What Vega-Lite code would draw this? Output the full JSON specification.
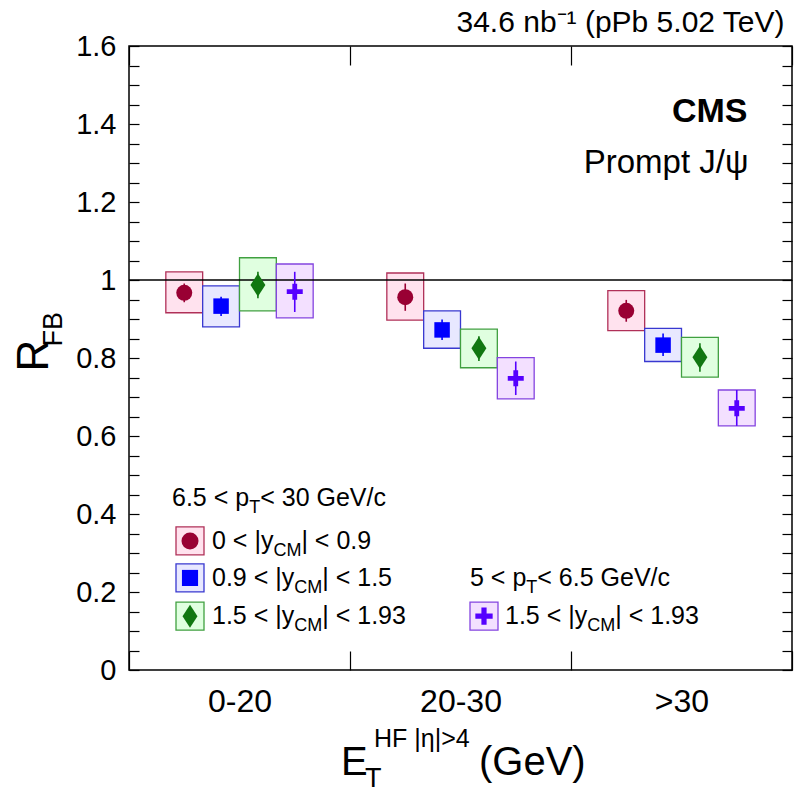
{
  "$schema": "https://vega.github.io/schema/vega-lite/v6.json",
  "width": 663,
  "height": 624,
  "autosize": {"type": "none"},
  "padding": {"left": 129, "top": 46, "right": 4, "bottom": 126},
  "background": "white",
  "config": {"view": {"stroke": "black", "strokeWidth": 1.5}, "font": "Liberation Sans", "text": {"fontWeight": "normal", "font": "Liberation Sans"}},
  "datasets": {
    "pts": [
      {"bin": "0-20", "series": "s1", "v": 0.967, "elo": 0.943, "ehi": 0.991, "slo": 0.916, "shi": 1.021},
      {"bin": "0-20", "series": "s2", "v": 0.933, "elo": 0.908, "ehi": 0.957, "slo": 0.880, "shi": 0.985},
      {"bin": "0-20", "series": "s3", "v": 0.987, "elo": 0.953, "ehi": 1.021, "slo": 0.921, "shi": 1.057},
      {"bin": "0-20", "series": "s4", "v": 0.970, "elo": 0.918, "ehi": 1.021, "slo": 0.903, "shi": 1.041},
      {"bin": "20-30", "series": "s1", "v": 0.956, "elo": 0.921, "ehi": 0.991, "slo": 0.897, "shi": 1.018},
      {"bin": "20-30", "series": "s2", "v": 0.872, "elo": 0.846, "ehi": 0.899, "slo": 0.825, "shi": 0.921},
      {"bin": "20-30", "series": "s3", "v": 0.825, "elo": 0.792, "ehi": 0.856, "slo": 0.775, "shi": 0.874},
      {"bin": "20-30", "series": "s4", "v": 0.748, "elo": 0.705, "ehi": 0.791, "slo": 0.695, "shi": 0.801},
      {"bin": ">30", "series": "s1", "v": 0.921, "elo": 0.893, "ehi": 0.949, "slo": 0.870, "shi": 0.973},
      {"bin": ">30", "series": "s2", "v": 0.833, "elo": 0.805, "ehi": 0.863, "slo": 0.791, "shi": 0.876},
      {"bin": ">30", "series": "s3", "v": 0.802, "elo": 0.765, "ehi": 0.838, "slo": 0.751, "shi": 0.853},
      {"bin": ">30", "series": "s4", "v": 0.671, "elo": 0.626, "ehi": 0.718, "slo": 0.626, "shi": 0.718}
    ],
    "one": [{"k": 1}]
  },
  "resolve": {"axis": {"x": "independent", "y": "independent"}},
  "layer": [
    {
      "data": {"name": "pts"},
      "mark": {"type": "rect", "strokeWidth": 1.3},
      "encoding": {
        "x": {"field": "bin", "type": "nominal", "sort": ["0-20", "20-30", ">30"],
          "scale": {"type": "band", "domain": ["0-20", "20-30", ">30"], "paddingInner": 0, "paddingOuter": 0},
          "axis": {"orient": "bottom", "tickBand": "extent", "tickSize": -19, "tickWidth": 1.2, "tickColor": "black", "labelPadding": 35, "labelFontSize": 32, "labelFont": "Liberation Sans", "labelFontWeight": "normal", "labelColor": "black", "labelAngle": 0, "domain": false, "grid": false, "title": null}},
        "xOffset": {"field": "series", "type": "nominal", "scale": {"domain": ["s1", "s2", "s3", "s4"], "paddingInner": 0, "paddingOuter": 3.02}},
        "y": {"field": "slo", "type": "quantitative",
          "scale": {"domain": [0, 1.6], "nice": false, "zero": false},
          "axis": {"orient": "left", "values": [0,0.05,0.1,0.15,0.2,0.25,0.3,0.35,0.4,0.45,0.5,0.55,0.6,0.65,0.7,0.75,0.8,0.85,0.9,0.95,1,1.05,1.1,1.15,1.2,1.25,1.3,1.35,1.4,1.45,1.5,1.55,1.6],
            "labelExpr": "abs(datum.value*5 - round(datum.value*5)) < 0.01 ? format(datum.value, '~g') : ''",
            "labelOverlap": false, "labelFlush": false, "tickSize": -10, "tickWidth": 1.2, "tickColor": "black", "labelPadding": 23, "labelFontSize": 29, "labelFont": "Liberation Sans", "labelFontWeight": "normal", "labelColor": "black", "domain": false, "grid": false,
            "title": "R", "titleFontSize": 44, "titleFont": "Liberation Sans", "titleFontWeight": "normal", "titleColor": "black", "titleX": -82, "titleY": 309, "titleBaseline": "alphabetic", "titleAlign": "center", "titleAngle": 270}},
        "y2": {"field": "shi"},
        "fill": {"field": "series", "type": "nominal", "scale": {"domain": ["s1", "s2", "s3", "s4"], "range": ["#ffe2ee", "#e8e8ff", "#e0ffe0", "#f3e0ff"]}, "legend": null},
        "stroke": {"field": "series", "type": "nominal", "scale": {"domain": ["s1", "s2", "s3", "s4"], "range": ["#b03058", "#3838d0", "#40a040", "#8444e0"]}, "legend": null}
      }
    },
    {
      "data": {"name": "one"},
      "mark": {"type": "rule", "color": "black", "strokeWidth": 1.3},
      "encoding": {"y": {"datum": 1, "type": "quantitative", "scale": {"domain": [0, 1.6], "nice": false, "zero": false}, "axis": null}}
    },
    {
      "data": {"name": "pts"},
      "mark": {"type": "rule", "strokeWidth": 1.6},
      "encoding": {
        "x": {"field": "bin", "type": "nominal", "scale": {"type": "band", "domain": ["0-20", "20-30", ">30"], "paddingInner": 0, "paddingOuter": 0}, "axis": null},
        "xOffset": {"field": "series", "type": "nominal", "scale": {"domain": ["s1", "s2", "s3", "s4"], "paddingInner": 0, "paddingOuter": 3.02}},
        "y": {"field": "elo", "type": "quantitative", "scale": {"domain": [0, 1.6], "nice": false, "zero": false}, "axis": null},
        "y2": {"field": "ehi"},
        "color": {"field": "series", "type": "nominal", "scale": {"domain": ["s1", "s2", "s3", "s4"], "range": ["#990033", "#0000ff", "#117711", "#5500ff"]}, "legend": null}
      }
    },
    {
      "data": {"name": "pts"},
      "mark": {"type": "point", "filled": true, "opacity": 1},
      "encoding": {
        "x": {"field": "bin", "type": "nominal", "scale": {"type": "band", "domain": ["0-20", "20-30", ">30"], "paddingInner": 0, "paddingOuter": 0}, "axis": null},
        "xOffset": {"field": "series", "type": "nominal", "scale": {"domain": ["s1", "s2", "s3", "s4"], "paddingInner": 0, "paddingOuter": 3.02}},
        "y": {"field": "v", "type": "quantitative", "scale": {"domain": [0, 1.6], "nice": false, "zero": false}, "axis": null},
        "color": {"field": "series", "type": "nominal", "scale": {"domain": ["s1", "s2", "s3", "s4"], "range": ["#990033", "#0000ff", "#117711", "#5500ff"]}, "legend": null},
        "shape": {"field": "series", "type": "nominal", "scale": {"domain": ["s1", "s2", "s3", "s4"], "range": ["circle", "square", "M0,-1L0.65,0L0,1L-0.65,0Z", "M-0.3,-1L0.3,-1L0.3,-0.3L1,-0.3L1,0.3L0.3,0.3L0.3,1L-0.3,1L-0.3,0.3L-1,0.3L-1,-0.3L-0.3,-0.3Z"]}, "legend": null},
        "size": {"field": "series", "type": "nominal", "scale": {"type": "ordinal", "domain": ["s1", "s2", "s3", "s4"], "range": [256, 240, 529, 256]}, "legend": null}
      }
    },
    {
      "data": {"name": "pts"},
      "mark": {"type": "point", "opacity": 0},
      "encoding": {
        "x": {"field": "bin", "type": "nominal", "scale": {"type": "band", "domain": ["0-20", "20-30", ">30"], "paddingInner": 0, "paddingOuter": 0},
          "axis": {"orient": "top", "tickBand": "extent", "tickSize": -19, "tickWidth": 1.2, "tickColor": "black", "labels": false, "domain": false, "grid": false, "title": null}},
        "y": {"field": "v", "type": "quantitative", "scale": {"domain": [0, 1.6], "nice": false, "zero": false},
          "axis": {"orient": "right", "values": [0,0.05,0.1,0.15,0.2,0.25,0.3,0.35,0.4,0.45,0.5,0.55,0.6,0.65,0.7,0.75,0.8,0.85,0.9,0.95,1,1.05,1.1,1.15,1.2,1.25,1.3,1.35,1.4,1.45,1.5,1.55,1.6], "tickSize": -10, "tickWidth": 1.2, "tickColor": "black", "labels": false, "domain": false, "grid": false, "title": null}}
      }
    },
    {"data": {"name": "one"}, "mark": {"type": "text", "text": "34.6 nb⁻¹ (pPb 5.02 TeV)", "align": "right", "baseline": "alphabetic", "dx": 103, "dy": -14, "fontSize": 30, "fontWeight": "normal", "color": "black"},
     "encoding": {"x": {"datum": ">30", "type": "nominal", "scale": {"type": "band", "domain": ["0-20", "20-30", ">30"], "paddingInner": 0, "paddingOuter": 0}, "axis": null}, "y": {"datum": 1.6, "type": "quantitative", "scale": {"domain": [0, 1.6], "nice": false, "zero": false}, "axis": null}}},
    {"data": {"name": "one"}, "mark": {"type": "text", "text": "FB", "angle": 270, "align": "center", "baseline": "alphabetic", "dy": -177.5, "fontSize": 27, "fontWeight": "normal", "color": "black"},
     "encoding": {"x": {"datum": "0-20", "type": "nominal", "scale": {"type": "band", "domain": ["0-20", "20-30", ">30"], "paddingInner": 0, "paddingOuter": 0}, "axis": null}, "y": {"datum": 0.874, "type": "quantitative", "scale": {"domain": [0, 1.6], "nice": false, "zero": false}, "axis": null}}},
    {"data": {"name": "one"}, "mark": {"type": "text", "text": "E", "align": "left", "baseline": "alphabetic", "dx": -119.5, "fontSize": 40, "fontWeight": "normal", "color": "black"},
     "encoding": {"x": {"datum": "20-30", "type": "nominal", "scale": {"type": "band", "domain": ["0-20", "20-30", ">30"], "paddingInner": 0, "paddingOuter": 0}, "axis": null}, "y": {"datum": -0.269, "type": "quantitative", "scale": {"domain": [0, 1.6], "nice": false, "zero": false}, "axis": null}}},
    {"data": {"name": "one"}, "mark": {"type": "text", "text": "T", "align": "left", "baseline": "alphabetic", "dx": -95.5, "fontSize": 27, "fontWeight": "normal", "color": "black"},
     "encoding": {"x": {"datum": "20-30", "type": "nominal", "scale": {"type": "band", "domain": ["0-20", "20-30", ">30"], "paddingInner": 0, "paddingOuter": 0}, "axis": null}, "y": {"datum": -0.3, "type": "quantitative", "scale": {"domain": [0, 1.6], "nice": false, "zero": false}, "axis": null}}},
    {"data": {"name": "one"}, "mark": {"type": "text", "text": "HF |η|>4", "align": "left", "baseline": "alphabetic", "dx": -86.5, "fontSize": 25, "fontWeight": "normal", "color": "black"},
     "encoding": {"x": {"datum": "20-30", "type": "nominal", "scale": {"type": "band", "domain": ["0-20", "20-30", ">30"], "paddingInner": 0, "paddingOuter": 0}, "axis": null}, "y": {"datum": -0.197, "type": "quantitative", "scale": {"domain": [0, 1.6], "nice": false, "zero": false}, "axis": null}}},
    {"data": {"name": "one"}, "mark": {"type": "text", "text": "(GeV)", "align": "left", "baseline": "alphabetic", "dx": 18.5, "fontSize": 40, "fontWeight": "normal", "color": "black"},
     "encoding": {"x": {"datum": "20-30", "type": "nominal", "scale": {"type": "band", "domain": ["0-20", "20-30", ">30"], "paddingInner": 0, "paddingOuter": 0}, "axis": null}, "y": {"datum": -0.269, "type": "quantitative", "scale": {"domain": [0, 1.6], "nice": false, "zero": false}, "axis": null}}},
    {"data": {"name": "one"}, "mark": {"type": "text", "text": "CMS", "align": "right", "baseline": "middle", "dx": 66, "fontSize": 34, "fontWeight": "bold", "color": "black"},
     "encoding": {"x": {"datum": ">30", "type": "nominal", "scale": {"type": "band", "domain": ["0-20", "20-30", ">30"], "paddingInner": 0, "paddingOuter": 0}, "axis": null}, "y": {"datum": 1.431, "type": "quantitative", "scale": {"domain": [0, 1.6], "nice": false, "zero": false}, "axis": null}}},
    {"data": {"name": "one"}, "mark": {"type": "text", "text": "Prompt J/ψ", "align": "right", "baseline": "middle", "dx": 67, "fontSize": 33, "fontWeight": "normal", "color": "black"},
     "encoding": {"x": {"datum": ">30", "type": "nominal", "scale": {"type": "band", "domain": ["0-20", "20-30", ">30"], "paddingInner": 0, "paddingOuter": 0}, "axis": null}, "y": {"datum": 1.3, "type": "quantitative", "scale": {"domain": [0, 1.6], "nice": false, "zero": false}, "axis": null}}},

    {"data": {"name": "one"}, "mark": {"type": "text", "text": "6.5 < p", "align": "left", "baseline": "middle", "dx": -67.5, "fontSize": 25, "fontWeight": "normal", "color": "black"},
     "encoding": {"x": {"datum": "0-20", "type": "nominal", "scale": {"type": "band", "domain": ["0-20", "20-30", ">30"], "paddingInner": 0, "paddingOuter": 0}, "axis": null}, "y": {"datum": 0.441, "type": "quantitative", "scale": {"domain": [0, 1.6], "nice": false, "zero": false}, "axis": null}}},
    {"data": {"name": "one"}, "mark": {"type": "text", "text": "T", "align": "left", "baseline": "middle", "dx": 9.7, "dy": 10, "fontSize": 18, "fontWeight": "normal", "color": "black"},
     "encoding": {"x": {"datum": "0-20", "type": "nominal", "scale": {"type": "band", "domain": ["0-20", "20-30", ">30"], "paddingInner": 0, "paddingOuter": 0}, "axis": null}, "y": {"datum": 0.441, "type": "quantitative", "scale": {"domain": [0, 1.6], "nice": false, "zero": false}, "axis": null}}},
    {"data": {"name": "one"}, "mark": {"type": "text", "text": " < 30 GeV/c", "align": "left", "baseline": "middle", "dx": 20.7, "fontSize": 25, "fontWeight": "normal", "color": "black"},
     "encoding": {"x": {"datum": "0-20", "type": "nominal", "scale": {"type": "band", "domain": ["0-20", "20-30", ">30"], "paddingInner": 0, "paddingOuter": 0}, "axis": null}, "y": {"datum": 0.441, "type": "quantitative", "scale": {"domain": [0, 1.6], "nice": false, "zero": false}, "axis": null}}},

    {"data": {"name": "one"}, "mark": {"type": "point", "shape": "square", "size": 784, "filled": true, "fill": "#ffe2ee", "stroke": "#b03058", "strokeWidth": 1.3, "opacity": 1, "xOffset": -49.5},
     "encoding": {"x": {"datum": "0-20", "type": "nominal", "scale": {"type": "band", "domain": ["0-20", "20-30", ">30"], "paddingInner": 0, "paddingOuter": 0}, "axis": null}, "y": {"datum": 0.331, "type": "quantitative", "scale": {"domain": [0, 1.6], "nice": false, "zero": false}, "axis": null}}},
    {"data": {"name": "one"}, "mark": {"type": "point", "shape": "circle", "size": 290, "filled": true, "color": "#990033", "opacity": 1, "xOffset": -49.5},
     "encoding": {"x": {"datum": "0-20", "type": "nominal", "scale": {"type": "band", "domain": ["0-20", "20-30", ">30"], "paddingInner": 0, "paddingOuter": 0}, "axis": null}, "y": {"datum": 0.331, "type": "quantitative", "scale": {"domain": [0, 1.6], "nice": false, "zero": false}, "axis": null}}},
    {"data": {"name": "one"}, "mark": {"type": "text", "text": "0 < |y", "align": "left", "baseline": "middle", "dx": -27.5, "fontSize": 25, "fontWeight": "normal", "color": "black"},
     "encoding": {"x": {"datum": "0-20", "type": "nominal", "scale": {"type": "band", "domain": ["0-20", "20-30", ">30"], "paddingInner": 0, "paddingOuter": 0}, "axis": null}, "y": {"datum": 0.331, "type": "quantitative", "scale": {"domain": [0, 1.6], "nice": false, "zero": false}, "axis": null}}},
    {"data": {"name": "one"}, "mark": {"type": "text", "text": "CM", "align": "left", "baseline": "middle", "dx": 33.9, "dy": 10, "fontSize": 18, "fontWeight": "normal", "color": "black"},
     "encoding": {"x": {"datum": "0-20", "type": "nominal", "scale": {"type": "band", "domain": ["0-20", "20-30", ">30"], "paddingInner": 0, "paddingOuter": 0}, "axis": null}, "y": {"datum": 0.331, "type": "quantitative", "scale": {"domain": [0, 1.6], "nice": false, "zero": false}, "axis": null}}},
    {"data": {"name": "one"}, "mark": {"type": "text", "text": "| < 0.9", "align": "left", "baseline": "middle", "dx": 61.9, "fontSize": 25, "fontWeight": "normal", "color": "black"},
     "encoding": {"x": {"datum": "0-20", "type": "nominal", "scale": {"type": "band", "domain": ["0-20", "20-30", ">30"], "paddingInner": 0, "paddingOuter": 0}, "axis": null}, "y": {"datum": 0.331, "type": "quantitative", "scale": {"domain": [0, 1.6], "nice": false, "zero": false}, "axis": null}}},

    {"data": {"name": "one"}, "mark": {"type": "point", "shape": "square", "size": 784, "filled": true, "fill": "#e8e8ff", "stroke": "#3838d0", "strokeWidth": 1.3, "opacity": 1, "xOffset": -49.5},
     "encoding": {"x": {"datum": "0-20", "type": "nominal", "scale": {"type": "band", "domain": ["0-20", "20-30", ">30"], "paddingInner": 0, "paddingOuter": 0}, "axis": null}, "y": {"datum": 0.236, "type": "quantitative", "scale": {"domain": [0, 1.6], "nice": false, "zero": false}, "axis": null}}},
    {"data": {"name": "one"}, "mark": {"type": "point", "shape": "square", "size": 260, "filled": true, "color": "#0000ff", "opacity": 1, "xOffset": -49.5},
     "encoding": {"x": {"datum": "0-20", "type": "nominal", "scale": {"type": "band", "domain": ["0-20", "20-30", ">30"], "paddingInner": 0, "paddingOuter": 0}, "axis": null}, "y": {"datum": 0.236, "type": "quantitative", "scale": {"domain": [0, 1.6], "nice": false, "zero": false}, "axis": null}}},
    {"data": {"name": "one"}, "mark": {"type": "text", "text": "0.9 < |y", "align": "left", "baseline": "middle", "dx": -27.5, "fontSize": 25, "fontWeight": "normal", "color": "black"},
     "encoding": {"x": {"datum": "0-20", "type": "nominal", "scale": {"type": "band", "domain": ["0-20", "20-30", ">30"], "paddingInner": 0, "paddingOuter": 0}, "axis": null}, "y": {"datum": 0.236, "type": "quantitative", "scale": {"domain": [0, 1.6], "nice": false, "zero": false}, "axis": null}}},
    {"data": {"name": "one"}, "mark": {"type": "text", "text": "CM", "align": "left", "baseline": "middle", "dx": 54.75, "dy": 10, "fontSize": 18, "fontWeight": "normal", "color": "black"},
     "encoding": {"x": {"datum": "0-20", "type": "nominal", "scale": {"type": "band", "domain": ["0-20", "20-30", ">30"], "paddingInner": 0, "paddingOuter": 0}, "axis": null}, "y": {"datum": 0.236, "type": "quantitative", "scale": {"domain": [0, 1.6], "nice": false, "zero": false}, "axis": null}}},
    {"data": {"name": "one"}, "mark": {"type": "text", "text": "| < 1.5", "align": "left", "baseline": "middle", "dx": 82.75, "fontSize": 25, "fontWeight": "normal", "color": "black"},
     "encoding": {"x": {"datum": "0-20", "type": "nominal", "scale": {"type": "band", "domain": ["0-20", "20-30", ">30"], "paddingInner": 0, "paddingOuter": 0}, "axis": null}, "y": {"datum": 0.236, "type": "quantitative", "scale": {"domain": [0, 1.6], "nice": false, "zero": false}, "axis": null}}},

    {"data": {"name": "one"}, "mark": {"type": "point", "shape": "square", "size": 784, "filled": true, "fill": "#e0ffe0", "stroke": "#40a040", "strokeWidth": 1.3, "opacity": 1, "xOffset": -49.5},
     "encoding": {"x": {"datum": "0-20", "type": "nominal", "scale": {"type": "band", "domain": ["0-20", "20-30", ">30"], "paddingInner": 0, "paddingOuter": 0}, "axis": null}, "y": {"datum": 0.138, "type": "quantitative", "scale": {"domain": [0, 1.6], "nice": false, "zero": false}, "axis": null}}},
    {"data": {"name": "one"}, "mark": {"type": "point", "shape": "M0,-1L0.65,0L0,1L-0.65,0Z", "size": 529, "filled": true, "color": "#117711", "opacity": 1, "xOffset": -49.5},
     "encoding": {"x": {"datum": "0-20", "type": "nominal", "scale": {"type": "band", "domain": ["0-20", "20-30", ">30"], "paddingInner": 0, "paddingOuter": 0}, "axis": null}, "y": {"datum": 0.138, "type": "quantitative", "scale": {"domain": [0, 1.6], "nice": false, "zero": false}, "axis": null}}},
    {"data": {"name": "one"}, "mark": {"type": "text", "text": "1.5 < |y", "align": "left", "baseline": "middle", "dx": -27.5, "fontSize": 25, "fontWeight": "normal", "color": "black"},
     "encoding": {"x": {"datum": "0-20", "type": "nominal", "scale": {"type": "band", "domain": ["0-20", "20-30", ">30"], "paddingInner": 0, "paddingOuter": 0}, "axis": null}, "y": {"datum": 0.138, "type": "quantitative", "scale": {"domain": [0, 1.6], "nice": false, "zero": false}, "axis": null}}},
    {"data": {"name": "one"}, "mark": {"type": "text", "text": "CM", "align": "left", "baseline": "middle", "dx": 54.75, "dy": 10, "fontSize": 18, "fontWeight": "normal", "color": "black"},
     "encoding": {"x": {"datum": "0-20", "type": "nominal", "scale": {"type": "band", "domain": ["0-20", "20-30", ">30"], "paddingInner": 0, "paddingOuter": 0}, "axis": null}, "y": {"datum": 0.138, "type": "quantitative", "scale": {"domain": [0, 1.6], "nice": false, "zero": false}, "axis": null}}},
    {"data": {"name": "one"}, "mark": {"type": "text", "text": "| < 1.93", "align": "left", "baseline": "middle", "dx": 82.75, "fontSize": 25, "fontWeight": "normal", "color": "black"},
     "encoding": {"x": {"datum": "0-20", "type": "nominal", "scale": {"type": "band", "domain": ["0-20", "20-30", ">30"], "paddingInner": 0, "paddingOuter": 0}, "axis": null}, "y": {"datum": 0.138, "type": "quantitative", "scale": {"domain": [0, 1.6], "nice": false, "zero": false}, "axis": null}}},

    {"data": {"name": "one"}, "mark": {"type": "text", "text": "5 < p", "align": "left", "baseline": "middle", "dx": 9.5, "fontSize": 25, "fontWeight": "normal", "color": "black"},
     "encoding": {"x": {"datum": "20-30", "type": "nominal", "scale": {"type": "band", "domain": ["0-20", "20-30", ">30"], "paddingInner": 0, "paddingOuter": 0}, "axis": null}, "y": {"datum": 0.236, "type": "quantitative", "scale": {"domain": [0, 1.6], "nice": false, "zero": false}, "axis": null}}},
    {"data": {"name": "one"}, "mark": {"type": "text", "text": "T", "align": "left", "baseline": "middle", "dx": 65.8, "dy": 10, "fontSize": 18, "fontWeight": "normal", "color": "black"},
     "encoding": {"x": {"datum": "20-30", "type": "nominal", "scale": {"type": "band", "domain": ["0-20", "20-30", ">30"], "paddingInner": 0, "paddingOuter": 0}, "axis": null}, "y": {"datum": 0.236, "type": "quantitative", "scale": {"domain": [0, 1.6], "nice": false, "zero": false}, "axis": null}}},
    {"data": {"name": "one"}, "mark": {"type": "text", "text": " < 6.5 GeV/c", "align": "left", "baseline": "middle", "dx": 76.8, "fontSize": 25, "fontWeight": "normal", "color": "black"},
     "encoding": {"x": {"datum": "20-30", "type": "nominal", "scale": {"type": "band", "domain": ["0-20", "20-30", ">30"], "paddingInner": 0, "paddingOuter": 0}, "axis": null}, "y": {"datum": 0.236, "type": "quantitative", "scale": {"domain": [0, 1.6], "nice": false, "zero": false}, "axis": null}}},

    {"data": {"name": "one"}, "mark": {"type": "point", "shape": "square", "size": 784, "filled": true, "fill": "#f3e0ff", "stroke": "#8444e0", "strokeWidth": 1.3, "opacity": 1, "xOffset": 23.5},
     "encoding": {"x": {"datum": "20-30", "type": "nominal", "scale": {"type": "band", "domain": ["0-20", "20-30", ">30"], "paddingInner": 0, "paddingOuter": 0}, "axis": null}, "y": {"datum": 0.138, "type": "quantitative", "scale": {"domain": [0, 1.6], "nice": false, "zero": false}, "axis": null}}},
    {"data": {"name": "one"}, "mark": {"type": "point", "shape": "M-0.3,-1L0.3,-1L0.3,-0.3L1,-0.3L1,0.3L0.3,0.3L0.3,1L-0.3,1L-0.3,0.3L-1,0.3L-1,-0.3L-0.3,-0.3Z", "size": 300, "filled": true, "color": "#5500ff", "opacity": 1, "xOffset": 23.5},
     "encoding": {"x": {"datum": "20-30", "type": "nominal", "scale": {"type": "band", "domain": ["0-20", "20-30", ">30"], "paddingInner": 0, "paddingOuter": 0}, "axis": null}, "y": {"datum": 0.138, "type": "quantitative", "scale": {"domain": [0, 1.6], "nice": false, "zero": false}, "axis": null}}},
    {"data": {"name": "one"}, "mark": {"type": "text", "text": "1.5 < |y", "align": "left", "baseline": "middle", "dx": 44.5, "fontSize": 25, "fontWeight": "normal", "color": "black"},
     "encoding": {"x": {"datum": "20-30", "type": "nominal", "scale": {"type": "band", "domain": ["0-20", "20-30", ">30"], "paddingInner": 0, "paddingOuter": 0}, "axis": null}, "y": {"datum": 0.138, "type": "quantitative", "scale": {"domain": [0, 1.6], "nice": false, "zero": false}, "axis": null}}},
    {"data": {"name": "one"}, "mark": {"type": "text", "text": "CM", "align": "left", "baseline": "middle", "dx": 126.75, "dy": 10, "fontSize": 18, "fontWeight": "normal", "color": "black"},
     "encoding": {"x": {"datum": "20-30", "type": "nominal", "scale": {"type": "band", "domain": ["0-20", "20-30", ">30"], "paddingInner": 0, "paddingOuter": 0}, "axis": null}, "y": {"datum": 0.138, "type": "quantitative", "scale": {"domain": [0, 1.6], "nice": false, "zero": false}, "axis": null}}},
    {"data": {"name": "one"}, "mark": {"type": "text", "text": "| < 1.93", "align": "left", "baseline": "middle", "dx": 154.75, "fontSize": 25, "fontWeight": "normal", "color": "black"},
     "encoding": {"x": {"datum": "20-30", "type": "nominal", "scale": {"type": "band", "domain": ["0-20", "20-30", ">30"], "paddingInner": 0, "paddingOuter": 0}, "axis": null}, "y": {"datum": 0.138, "type": "quantitative", "scale": {"domain": [0, 1.6], "nice": false, "zero": false}, "axis": null}}}
  ]
}
